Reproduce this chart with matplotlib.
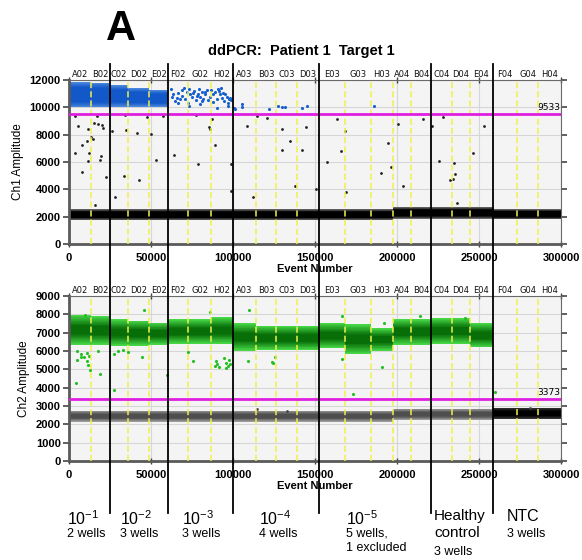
import matplotlib
matplotlib.use('Agg')
import numpy as np
import matplotlib.pyplot as plt
import matplotlib.transforms as mtransforms
from matplotlib.colors import to_rgb
from matplotlib.lines import Line2D

plt.rcParams['font.family'] = ['Liberation Sans', 'DejaVu Sans']

# ------------------------------------------------------------------
# Data (event number / amplitude units)
# ------------------------------------------------------------------
WELLS = ['A02', 'B02', 'C02', 'D02', 'E02', 'F02', 'G02', 'H02',
         'A03', 'B03', 'C03', 'D03', 'E03', 'G03', 'H03', 'A04', 'B04',
         'C04', 'D04', 'E04', 'F04', 'G04', 'H04']
WELL_EDGES = [0, 13400, 25000, 36000, 48800, 60400, 72600, 86600, 100000,
              114000, 126200, 139000, 152400, 168300, 184100, 197600, 208500,
              220700, 233500, 244500, 258500, 273200, 286000, 300000]
GROUP_EDGES = [25000, 60400, 100000, 152400, 220700, 258500]

GROUP_LABELS = [r'10$^{\mathregular{-1}}$', r'10$^{\mathregular{-2}}$',
                r'10$^{\mathregular{-3}}$', r'10$^{\mathregular{-4}}$',
                r'10$^{\mathregular{-5}}$', 'Healthy\ncontrol', 'NTC']
GROUP_NOTES = ['2 wells', '3 wells', '3 wells', '4 wells',
               '5 wells,\n1 excluded', '3 wells', '3 wells']

THRESH_CH1 = 9533
THRESH_CH2 = 3373

# Ch1 dense positive (blue) clouds, wells A02..E02
POS1_LO = [10000, 10000, 10050, 10050, 10050]
POS1_HI = [11850, 11800, 11600, 11400, 11250]

# Ch1 negative (black) clouds, every well
NEG1_LO = [1750] * 15 + [1850] * 5 + [1800] * 3
NEG1_HI = [2550] * 15 + [2700] * 5 + [2550] * 3

# Ch2 positive (green) clouds, wells A02..E04
POS2_LO = [6340, 6340, 6290, 6290, 6350, 6400, 6400, 6400, 6020, 6050,
           6050, 6050, 6160, 5840, 6020, 6350, 6350, 6400, 6400, 6200]
POS2_HI = [7970, 7900, 7730, 7650, 7550, 7730, 7730, 7840, 7520, 7370,
           7370, 7370, 7520, 7460, 7230, 7730, 7730, 7780, 7780, 7520]

# Ch2 negative clouds
NEG2_LO = [2150] * 15 + [2250] * 5 + [2300] * 3
NEG2_HI = [2750] * 15 + [2850] * 5 + [2900] * 3

# Ch1 single positive droplets (blue)
BLUE_X = [62200, 63000, 65650, 66670, 68700, 69100, 70730, 71750, 73170,
          73980, 75200, 76420, 77240, 78460, 79270, 79880, 80900, 81910,
          82930, 83940, 84550, 85980, 88010, 90040, 91060, 91670, 92280,
          93090, 93900, 94720, 96140, 97560, 98380, 66260, 73170, 79880,
          90040, 96750, 63500, 64800, 67500, 70000, 72500, 75800, 78000,
          81000, 83000, 86500, 87500, 89200, 92800, 95200, 97000, 99000,
          100800, 101200, 105300, 105300, 122100, 127200, 130100, 131500,
          141900, 144900, 186200]
BLUE_Y = [11310, 10790, 10700, 11040, 11280, 10840, 10620, 11110, 11360,
          10940, 10740, 11230, 10550, 10990, 11360, 10790, 11110, 10620,
          10940, 11280, 10570, 10740, 10990, 10620, 11360, 11180, 10940,
          10700, 11040, 10450, 10790, 10620, 10700, 10300, 10130, 10210,
          9960, 10130, 11000, 10450, 10600, 11400, 10350, 11050, 10800,
          10450, 11150, 11300, 10400, 11150, 11450, 11000, 10350, 10500,
          9940, 9910, 10260, 10010, 9910, 10090, 10040, 10040,
          9940, 10130, 10090]

# Ch1 stray droplets between the clusters (black)
BLACK_X = [3700, 5300, 16900, 15400, 17900, 19900, 20500, 11400, 13400,
           14800, 10800, 7700, 3400, 12200, 19300, 18700, 11400, 7700,
           22400, 15900, 34100, 26400, 34500, 47400, 41300, 49800, 53200,
           33500, 42900, 28000, 57500, 77400, 87000, 85600, 86200, 89000,
           64000, 78800, 98600, 98600, 114800, 120700, 108700, 129700,
           144500, 134600, 129900, 141900, 138000, 112200, 150600, 163600,
           168100, 166000, 157500, 168900, 200400, 194700, 196300, 190200,
           203800, 215900, 221100, 227800, 253200, 246500, 225800, 234900,
           235400, 232500, 234300, 236800]
BLACK_Y = [9400, 8670, 9330, 8840, 8790, 8720, 8500, 8420, 7860,
           7690, 7570, 7250, 6670, 6670, 6450, 6150, 6060, 5300,
           4890, 2860, 9470, 8300, 8350, 9280, 8110, 8060, 6150,
           4960, 4690, 3420, 9330, 9470, 9110, 8550, 8420, 7250,
           6500, 5880, 5860, 3860, 9350, 9200, 8620, 8380,
           8550, 7570, 6890, 6890, 4270, 3420, 4030, 9160,
           8300, 6810, 6010, 3830, 8790, 7380, 5660, 5180,
           4230, 9160, 8620, 9280, 8670, 6640, 6060, 5910,
           5130, 4690, 4780, 3000]

# Ch2 stray positive droplets (green)
GREEN_X = [4100, 4700, 7300, 9300, 10800, 11400, 12800, 10800, 12200, 9800,
           18900, 17900, 27600, 27600, 30100, 33100, 36200, 44700, 45900,
           59900, 72400, 75600, 86200, 89000, 90200, 91400, 89600, 94500,
           95500, 96800, 97600, 98400, 96000, 109800, 109000, 123600,
           124600, 125600, 166300, 166300, 192300, 191100, 173400, 214000,
           241500, 259800, 5000, 7400]
GREEN_Y = [4240, 5510, 5840, 5690, 5470, 5260, 4970, 5870, 5750, 7970,
           4720, 6020, 3850, 5840, 6020, 6050, 5930, 5690, 8220,
           4700, 5960, 5440, 8150, 5200, 5300, 5150, 5450, 5600,
           5350, 5200, 5500, 5300, 5100, 8220, 5470, 5420,
           5350, 5690, 7900, 5570, 7550, 5150, 3670, 7910,
           7820, 3790, 5980, 5700]

# Ch2 stray negative droplets (grey)
GREY_X = [114400, 132700, 281100]
GREY_Y = [2860, 2730, 2890]

# ------------------------------------------------------------------
# Layout (pixels of a 582 x 560 canvas)
# ------------------------------------------------------------------
W, H = 582, 560
fig = plt.figure(figsize=(W / 100, H / 100), dpi=100)


def px_axes(left, top, right, bottom):
    return fig.add_axes([left / W, 1 - bottom / H,
                         (right - left) / W, (bottom - top) / H])


ax1 = px_axes(69, 80, 561, 244)
ax2 = px_axes(69, 296, 561, 461)

YELLOW = '#f0f04a'
MAGENTA = '#e01ee0'


def style_axis(ax, ymax, ystep, ylabel):
    ax.set_facecolor('#f4f4f4')
    ax.set_xlim(0, 300000)
    ax.set_ylim(0, ymax)
    ax.set_xticks(range(0, 300001, 50000))
    ax.set_yticks(range(0, ymax + 1, ystep))
    ax.grid(True, color='#d6d6d6', lw=0.8)
    ax.set_axisbelow(True)
    for side in ['left', 'bottom']:
        ax.spines[side].set_color('#5a5a5a')
        ax.spines[side].set_linewidth(2)
    for side in ['top', 'right']:
        ax.spines[side].set_color('#6a6a6a')
        ax.spines[side].set_linewidth(0.8)
    ax.tick_params(axis='y', direction='out', length=4, width=1.2,
                   color='#444', labelsize=8, pad=2, right=True)
    ax.tick_params(axis='x', direction='inout', length=5, width=1,
                   color='#444', labelsize=8, pad=4, top=True)
    for lab in ax.get_xticklabels() + ax.get_yticklabels():
        lab.set_fontweight('bold')
    ax.set_xlabel('Event Number', fontsize=8, fontweight='bold', labelpad=1)
    ax.set_ylabel(ylabel, fontsize=8.5, labelpad=4)

    # yellow dashed separators between wells inside a group
    for e in WELL_EDGES[1:-1]:
        if e not in GROUP_EDGES:
            ax.axvline(e, color=YELLOW, lw=1.1, ls=(0, (4, 2)), zorder=4)

    # well names above the frame
    trans = mtransforms.blended_transform_factory(ax.transData, ax.transAxes)
    for name, x0, x1 in zip(WELLS, WELL_EDGES[:-1], WELL_EDGES[1:]):
        ax.text((x0 + x1) / 2, 1.004, name, transform=trans, ha='center',
                va='bottom', fontsize=6, family='DejaVu Sans', color='#111')


def draw_band(ax, x0, x1, lo, hi, edge, core, n=10, core_frac=0.35):
    """Droplet cloud as a soft band: colour ramps from edge to core."""
    mid = (lo + hi) / 2
    half = (hi - lo) / 2
    c0, c1 = np.array(to_rgb(edge)), np.array(to_rgb(core))
    for k, f in enumerate(np.linspace(1.0, core_frac, n)):
        t = k / (n - 1)
        ax.fill_between([x0, x1], mid - half * f, mid + half * f,
                        color=tuple(c0 + (c1 - c0) * t), lw=0, zorder=2)


style_axis(ax1, 12000, 2000, 'Ch1 Amplitude')
style_axis(ax2, 9000, 1000, 'Ch2 Amplitude')

# ---- Ch1 ----
for i in range(len(WELLS)):
    draw_band(ax1, WELL_EDGES[i], WELL_EDGES[i + 1], NEG1_LO[i], NEG1_HI[i],
              '#6a6a6a', '#000000', core_frac=0.55)
for i in range(len(POS1_LO)):
    draw_band(ax1, WELL_EDGES[i], WELL_EDGES[i + 1], POS1_LO[i], POS1_HI[i],
              '#4a86dc', '#1258c8', core_frac=0.6)
ax1.scatter(BLUE_X, BLUE_Y, s=5, color='#1660d0', lw=0, zorder=3)
ax1.scatter(BLACK_X, BLACK_Y, s=4, color='#222222', lw=0, zorder=3)
ax1.axhline(THRESH_CH1, color=MAGENTA, lw=2, zorder=5)
ax1.text(0.998, THRESH_CH1 + 150, str(THRESH_CH1), ha='right', va='bottom',
         fontsize=6.5, family='DejaVu Sans',
         transform=mtransforms.blended_transform_factory(ax1.transAxes,
                                                         ax1.transData))

# ---- Ch2 ----
for i in range(len(WELLS)):
    ntc = i >= len(POS2_LO)
    edge, core = ('#333333', '#000000') if ntc else ('#9a9a9a', '#4e4e4e')
    draw_band(ax2, WELL_EDGES[i], WELL_EDGES[i + 1], NEG2_LO[i], NEG2_HI[i],
              edge, core, core_frac=0.4)
for i in range(len(POS2_LO)):
    draw_band(ax2, WELL_EDGES[i], WELL_EDGES[i + 1], POS2_LO[i], POS2_HI[i],
              '#46d646', '#086e08', n=14, core_frac=0.3)
ax2.scatter(GREEN_X, GREEN_Y, s=5, color='#22c022', lw=0, zorder=3)
ax2.scatter(GREY_X, GREY_Y, s=4, color='#444444', lw=0, zorder=3)
ax2.axhline(THRESH_CH2, color=MAGENTA, lw=2, zorder=5)
ax2.text(0.998, THRESH_CH2 + 120, str(THRESH_CH2), ha='right', va='bottom',
         fontsize=6.5, family='DejaVu Sans',
         transform=mtransforms.blended_transform_factory(ax2.transAxes,
                                                         ax2.transData))

# ---- black group dividers running through both panels ----
div_trans = mtransforms.blended_transform_factory(ax1.transData,
                                                  fig.transFigure)
for e in GROUP_EDGES:
    fig.add_artist(Line2D([e, e], [1 - 64 / H, 1 - 513 / H],
                          transform=div_trans, color='black', lw=1.3,
                          zorder=10))

# ---- titles ----
fig.text(121 / W, 1 - 29 / H, 'A', fontsize=30, fontweight='bold',
         ha='center', va='center')
fig.text(301 / W, 1 - 51 / H, 'ddPCR:  Patient 1  Target 1', fontsize=10.5,
         fontweight='bold', ha='center', va='center')

# ---- group annotations under the plot ----
LABEL_X = [67, 120, 182, 259, 346, 434, 507]
for x, lab, note in zip(LABEL_X, GROUP_LABELS, GROUP_NOTES):
    if '\n' in lab:
        fig.text(x / W, 1 - 509 / H, lab, fontsize=11, ha='left', va='top',
                 linespacing=1.3)
        fig.text(x / W, 1 - 546 / H, note, fontsize=9, ha='left', va='top')
    else:
        fig.text(x / W, 1 - 509 / H, lab, fontsize=11.5, ha='left', va='top')
        fig.text(x / W, 1 - 528 / H, note, fontsize=9, ha='left', va='top',
                 linespacing=1.25)

fig.savefig('out.png', dpi=100)
